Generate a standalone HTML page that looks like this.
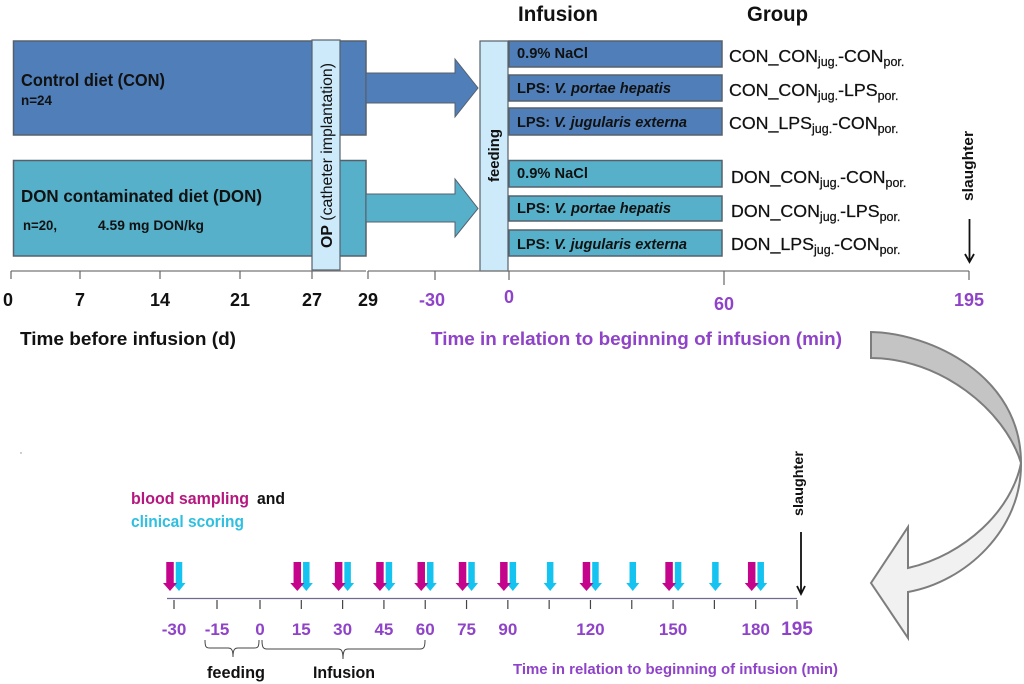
<!DOCTYPE html>
<html lang="en">
<head>
<meta charset="utf-8">
<title>Experimental design timeline</title>
<style>
html,body{margin:0;padding:0;background:#fff;width:1024px;height:684px;overflow:hidden}
svg{display:block;font-family:"Liberation Sans",sans-serif;filter:blur(.35px)}
text{font-weight:bold;fill:#111}
.reg{font-weight:normal}
.pur{fill:#8f43c8}
.box{stroke:#56606c;stroke-width:1.5}
.con{fill:#4f7eb8}
.don{fill:#56b0c9}
.lt{fill:#cdeafb;stroke:#56606c;stroke-width:1.2}
.bl{font-size:15px}
.gr{font-size:17.8px;font-weight:normal;stroke:#111;stroke-width:.25}
.gr tspan.s{font-size:12.5px}
</style>
</head>
<body>
<svg id="fig" width="1024" height="684" viewBox="0 0 1024 684" xmlns="http://www.w3.org/2000/svg">
  <g>
    <rect class="box con" x="13.5" y="41" width="352.5" height="94"/>
    <rect class="box don" x="13.5" y="160.5" width="352.5" height="95.5"/>
    <text x="21" y="86" font-size="17.5" textLength="144" lengthAdjust="spacingAndGlyphs">Control diet (CON)</text>
    <text x="21" y="105" font-size="13.5" textLength="31" lengthAdjust="spacingAndGlyphs">n=24</text>
    <text x="21" y="202" font-size="17.5" textLength="241" lengthAdjust="spacingAndGlyphs">DON contaminated diet (DON)</text>
    <text x="23" y="230" font-size="13.5" textLength="34" lengthAdjust="spacingAndGlyphs">n=20,</text>
    <text x="98" y="230" font-size="13.5" textLength="106" lengthAdjust="spacingAndGlyphs">4.59 mg DON/kg</text>
    <path class="con" stroke="#56606c" stroke-width="1" d="M366 73H455V59L478 88L455 117V103H366Z"/>
    <path class="don" stroke="#56606c" stroke-width="1" d="M366 194H455V179L478 208.5L455 237V222H366Z"/>
    <rect class="lt" x="312" y="40" width="28" height="230"/>
    <text class="reg" transform="translate(332,248) rotate(-90)" font-size="16" textLength="185" lengthAdjust="spacingAndGlyphs"><tspan font-weight="bold">OP</tspan> (catheter implantation)</text>
    <rect class="lt" x="480" y="41" width="28" height="230"/>
    <text transform="translate(499,182) rotate(-90)" font-size="15" textLength="53" lengthAdjust="spacingAndGlyphs">feeding</text>
  </g>

  <g>
    <text x="518" y="21" font-size="21" textLength="80" lengthAdjust="spacingAndGlyphs">Infusion</text>
    <text x="747" y="21" font-size="21" textLength="61" lengthAdjust="spacingAndGlyphs">Group</text>

    <rect class="box con" x="509" y="41" width="213" height="26"/>
    <rect class="box con" x="509" y="75" width="213" height="26"/>
    <rect class="box con" x="509" y="108" width="213" height="27"/>
    <rect class="box don" x="509" y="160.5" width="213" height="26.5"/>
    <rect class="box don" x="509" y="196" width="213" height="25"/>
    <rect class="box don" x="509" y="230" width="213" height="26"/>

    <text class="bl" x="517" y="58" textLength="71" lengthAdjust="spacingAndGlyphs">0.9% NaCl</text>
    <text class="bl" x="517" y="93" textLength="154" lengthAdjust="spacingAndGlyphs">LPS: <tspan font-style="italic">V. portae hepatis</tspan></text>
    <text class="bl" x="517" y="127" textLength="170" lengthAdjust="spacingAndGlyphs">LPS: <tspan font-style="italic">V. jugularis externa</tspan></text>
    <text class="bl" x="517" y="178" textLength="71" lengthAdjust="spacingAndGlyphs">0.9% NaCl</text>
    <text class="bl" x="517" y="213" textLength="154" lengthAdjust="spacingAndGlyphs">LPS: <tspan font-style="italic">V. portae hepatis</tspan></text>
    <text class="bl" x="517" y="249" textLength="170" lengthAdjust="spacingAndGlyphs">LPS: <tspan font-style="italic">V. jugularis externa</tspan></text>

    <text class="gr" x="729" y="62">CON_CON<tspan class="s" dy="4">jug.</tspan><tspan dy="-4">-CON</tspan><tspan class="s" dy="4">por.</tspan></text>
    <text class="gr" x="729" y="96">CON_CON<tspan class="s" dy="4">jug.</tspan><tspan dy="-4">-LPS</tspan><tspan class="s" dy="4">por.</tspan></text>
    <text class="gr" x="729" y="129">CON_LPS<tspan class="s" dy="4">jug.</tspan><tspan dy="-4">-CON</tspan><tspan class="s" dy="4">por.</tspan></text>
    <text class="gr" x="731" y="183">DON_CON<tspan class="s" dy="4">jug.</tspan><tspan dy="-4">-CON</tspan><tspan class="s" dy="4">por.</tspan></text>
    <text class="gr" x="731" y="217">DON_CON<tspan class="s" dy="4">jug.</tspan><tspan dy="-4">-LPS</tspan><tspan class="s" dy="4">por.</tspan></text>
    <text class="gr" x="731" y="250">DON_LPS<tspan class="s" dy="4">jug.</tspan><tspan dy="-4">-CON</tspan><tspan class="s" dy="4">por.</tspan></text>

    <text transform="translate(973,201) rotate(-90)" font-size="15" textLength="70" lengthAdjust="spacingAndGlyphs">slaughter</text>
    <path d="M969.5 219V261M965 254L969.5 262L974 254" fill="none" stroke="#111" stroke-width="1.8"/>
  </g>

  <g id="top-axis">
    <line x1="11" y1="271" x2="366" y2="271" stroke="#777" stroke-width="1.3"/>
    <line x1="368" y1="271" x2="969" y2="271" stroke="#777" stroke-width="1.3"/>
    <text x="20" y="345" font-size="18" textLength="216" lengthAdjust="spacingAndGlyphs">Time before infusion (d)</text>
    <text class="pur" x="431" y="345" font-size="18" textLength="411" lengthAdjust="spacingAndGlyphs">Time in relation to beginning of infusion (min)</text>
  </g>

  <g>
    <path d="M871 332C930 333 1021 375 1021 463C1005 410 940 358 871 358Z" fill="#c4c4c4" stroke="#7d7d7d" stroke-width="2"/>
    <path d="M1021 463C1022 530 965 582 908 592V638L871 583L908 527V568C965 555 1012 510 1021 463Z" fill="#f1f1f1" stroke="#7d7d7d" stroke-width="2"/>
  </g>

  <g>
    <text x="131" y="504" font-size="17" style="fill:#b5177f" textLength="118" lengthAdjust="spacingAndGlyphs">blood sampling</text>
    <text x="257" y="504" font-size="17" textLength="28" lengthAdjust="spacingAndGlyphs">and</text>
    <text x="131" y="527" font-size="17" style="fill:#2fbfe0" textLength="113" lengthAdjust="spacingAndGlyphs">clinical scoring</text>
    <circle cx="21" cy="453" r=".7" fill="#888"/>
  </g>

  <g id="bottom-axis">
    <line x1="167" y1="598.5" x2="797" y2="598.5" stroke="#6f6a90" stroke-width="1.3"/>
    <text class="pur" x="513" y="674" font-size="15" textLength="325" lengthAdjust="spacingAndGlyphs">Time in relation to beginning of infusion (min)</text>
    <path d="M205 640C205 647 206 648 210 648H228C231 648 233 649 233 657C233 649 235 648 238 648H254C258 648 259 647 259 640" fill="none" stroke="#444" stroke-width="1"/>
    <path d="M262 640C262 647 263 649 267 649H338C341 649 343 650 343 659C343 650 345 649 348 649H420C424 649 425 647 425 640" fill="none" stroke="#444" stroke-width="1"/>
    <text x="207" y="678" font-size="17" textLength="58" lengthAdjust="spacingAndGlyphs">feeding</text>
    <text x="313" y="678" font-size="17" textLength="62" lengthAdjust="spacingAndGlyphs">Infusion</text>
    <text transform="translate(803,516) rotate(-90)" font-size="14" textLength="65" lengthAdjust="spacingAndGlyphs">slaughter</text>
    <path d="M801 532V592M797 586L801 594L805 586" fill="none" stroke="#111" stroke-width="1.8"/>
  </g>
</svg>
<script>
var dayTicks = [0, 7, 14, 21, 27, 29];
var topMinuteTicks = [-30, 0, 60, 195];
var bottomMinuteTicks = [-30, -15, 0, 15, 30, 45, 60, 75, 90, 105, 120, 135, 150, 165, 180, 195];
var bottomMinuteLabels = [-30, -15, 0, 15, 30, 45, 60, 75, 90, 120, 150, 180, 195];
var bloodSamplingTimes = [-30, 15, 30, 45, 60, 75, 90, 120, 150, 180];
var clinicalScoringTimes = [-30, 15, 30, 45, 60, 75, 90, 105, 120, 135, 150, 165, 180];

var SVG_NS = 'http://www.w3.org/2000/svg';

function piecewise(domain, range) {
  return function (v) {
    var i = 0;
    while (i < domain.length - 2 && v > domain[i + 1]) i++;
    var t = (v - domain[i]) / (domain[i + 1] - domain[i]);
    return range[i] + t * (range[i + 1] - range[i]);
  };
}
var dayScale = piecewise([0, 7, 21, 27, 29], [11, 80, 240, 312, 368]);
var topMinuteScale = piecewise([-30, 0, 60, 195], [435, 509, 724, 969]);
var bottomScale = piecewise([-30, 0, 195], [174, 260, 797]);

function addTick(parent, x, y1, y2, color) {
  var l = document.createElementNS(SVG_NS, 'line');
  l.setAttribute('x1', x);
  l.setAttribute('x2', x);
  l.setAttribute('y1', y1);
  l.setAttribute('y2', y2);
  l.setAttribute('stroke', color);
  l.setAttribute('stroke-width', '1.2');
  
  
  parent.appendChild(l);
}
function addLabel(parent, x, y, text, size) {
  var t = document.createElementNS(SVG_NS, 'text');
  t.setAttribute('x', x);
  t.setAttribute('y', y);
  t.setAttribute('text-anchor', 'middle');
  t.setAttribute('font-size', size);
  t.textContent = text;
  
  
  parent.appendChild(t);
  return t;
}
function addArrow(parent, x, shaft, head, color) {
  var p = document.createElementNS(SVG_NS, 'path');
  var top = 562, neck = 583, tip = 591;
  p.setAttribute('d', 'M' + (x - shaft / 2) + ' ' + top + 'H' + (x + shaft / 2) + 'V' + neck +
    'H' + (x + head / 2) + 'L' + x + ' ' + tip + 'L' + (x - head / 2) + ' ' + neck + 'H' + (x - shaft / 2) + 'Z');
  p.setAttribute('fill', color);
  
  
  parent.appendChild(p);
}

var topAxis = document.getElementById('top-axis');
var bottomAxis = document.getElementById('bottom-axis');

dayTicks.forEach(function (d) {
  addTick(topAxis, dayScale(d), 271, 279, '#666');
  addLabel(topAxis, dayScale(d) + (d === 0 ? -3 : 0), 306, String(d), 18);
});
topMinuteTicks.forEach(function (m) {
  addTick(topAxis, topMinuteScale(m), 271, m === 60 ? 285 : 280, '#666');
  var nudge = m === 60 ? 4 : (m === 0 ? -3 : 0);
  var t = addLabel(topAxis, topMinuteScale(m) - (m === -30 ? 3 : 0), 306 + nudge, String(m), 18);
  t.setAttribute('class', 'pur');
});

bottomMinuteTicks.forEach(function (m) {
  addTick(bottomAxis, bottomScale(m), 600, 609, '#444');
});
bottomMinuteLabels.forEach(function (m) {
  var t = addLabel(bottomAxis, bottomScale(m), 635, String(m), m === 195 ? 19 : 17);
  t.setAttribute('class', 'pur');
});

clinicalScoringTimes.forEach(function (m) {
  var shared = bloodSamplingTimes.indexOf(m) !== -1;
  addArrow(bottomAxis, bottomScale(m) + (shared ? 5 : 1), 6.5, 13, '#14c3f0');
});
bloodSamplingTimes.forEach(function (m) {
  addArrow(bottomAxis, bottomScale(m) - 4, 7.5, 14, '#c4058c');
});
</script>
</body>
</html>
